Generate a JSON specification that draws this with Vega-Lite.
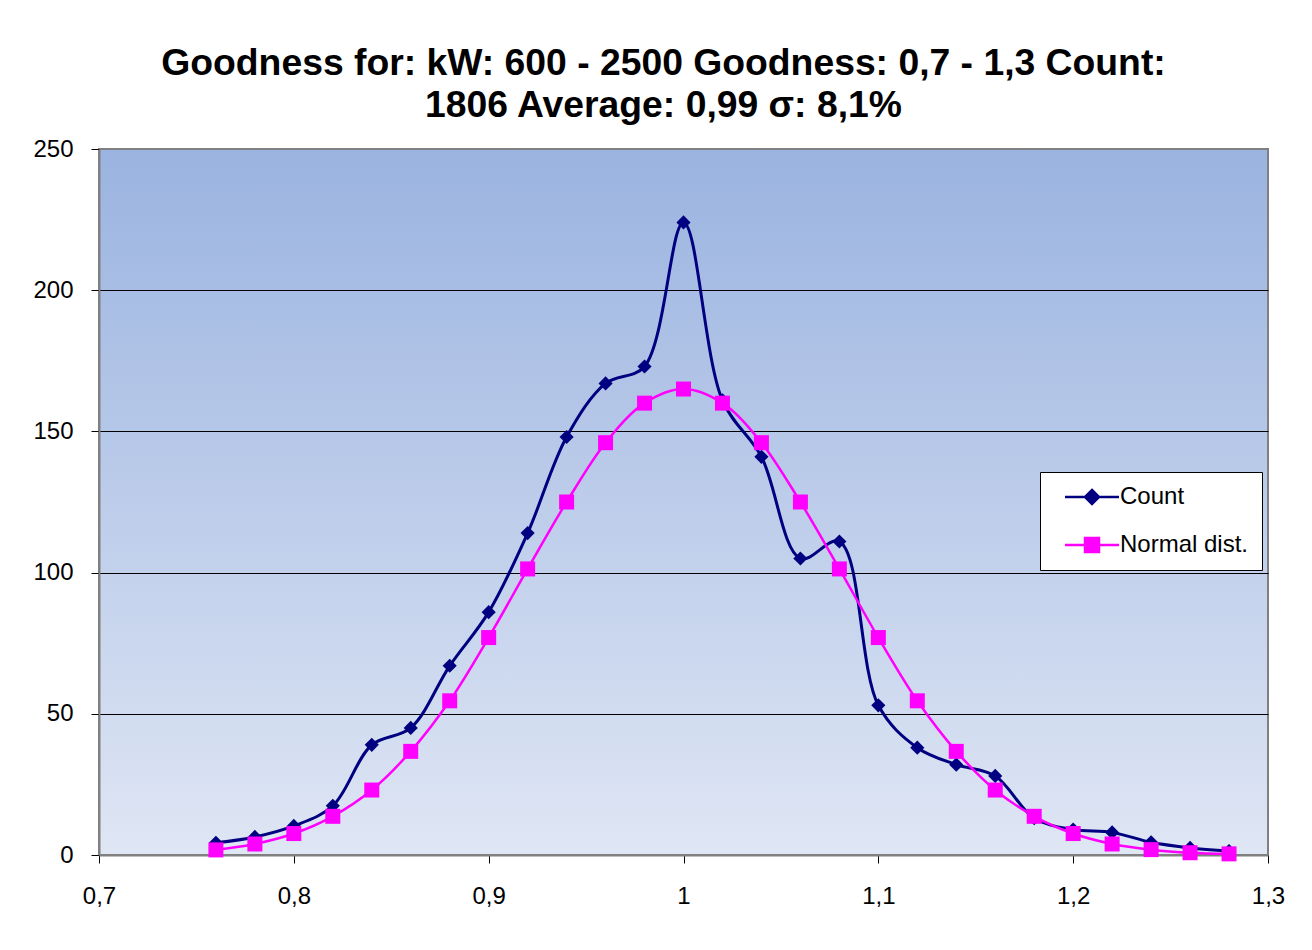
{
  "$schema": "https://vega.github.io/schema/vega-lite/v6.json",
  "width": 1169,
  "height": 706,
  "autosize": {"type": "none"},
  "padding": {"left": 99, "top": 149, "right": 44, "bottom": 95},
  "background": "white",
  "title": {
    "text": ["Goodness for: kW: 600 - 2500 Goodness: 0,7 - 1,3 Count:", "1806 Average: 0,99 σ: 8,1%"],
    "font": "Liberation Sans",
    "fontSize": 37.3,
    "fontWeight": "bold",
    "color": "black",
    "anchor": "middle",
    "baseline": "bottom",
    "lineHeight": 42,
    "offset": -25,
    "dx": -20
  },
  "config": {
    "view": {
      "fill": {"gradient": "linear", "x1": 0, "y1": 0, "x2": 0, "y2": 1, "stops": [{"offset": 0, "color": "#9AB3E0"}, {"offset": 1, "color": "#DFE6F4"}]},
      "stroke": "#808080",
      "strokeWidth": 2
    },
    "axis": {
      "labelFont": "Liberation Sans",
      "labelFontSize": 24,
      "labelColor": "black",
      "tickColor": "black",
      "tickSize": 8,
      "domainColor": "#808080",
      "domainWidth": 2,
      "labelFlush": false,
      "labelOverlap": false,
      "title": null
    },
    "legend": {
      "labelFont": "Liberation Sans",
      "labelFontSize": 24,
      "labelColor": "black"
    }
  },
  "data": {
    "values": [
      {"x": 0.76, "series": "Count", "value": 4.3},
      {"x": 0.78, "series": "Count", "value": 6.4},
      {"x": 0.80, "series": "Count", "value": 10.3},
      {"x": 0.82, "series": "Count", "value": 17.4},
      {"x": 0.84, "series": "Count", "value": 39},
      {"x": 0.86, "series": "Count", "value": 45},
      {"x": 0.88, "series": "Count", "value": 67},
      {"x": 0.90, "series": "Count", "value": 86},
      {"x": 0.92, "series": "Count", "value": 114},
      {"x": 0.94, "series": "Count", "value": 148},
      {"x": 0.96, "series": "Count", "value": 167},
      {"x": 0.98, "series": "Count", "value": 173},
      {"x": 1.00, "series": "Count", "value": 224},
      {"x": 1.02, "series": "Count", "value": 161},
      {"x": 1.04, "series": "Count", "value": 141},
      {"x": 1.06, "series": "Count", "value": 105},
      {"x": 1.08, "series": "Count", "value": 111},
      {"x": 1.10, "series": "Count", "value": 53},
      {"x": 1.12, "series": "Count", "value": 38},
      {"x": 1.14, "series": "Count", "value": 32},
      {"x": 1.16, "series": "Count", "value": 28},
      {"x": 1.18, "series": "Count", "value": 13},
      {"x": 1.20, "series": "Count", "value": 9},
      {"x": 1.22, "series": "Count", "value": 8},
      {"x": 1.24, "series": "Count", "value": 4.5},
      {"x": 1.26, "series": "Count", "value": 2.5},
      {"x": 1.28, "series": "Count", "value": 1.4},
      {"x": 0.76, "series": "Normal dist.", "value": 1.8},
      {"x": 0.78, "series": "Normal dist.", "value": 3.9},
      {"x": 0.80, "series": "Normal dist.", "value": 7.6},
      {"x": 0.82, "series": "Normal dist.", "value": 13.7},
      {"x": 0.84, "series": "Normal dist.", "value": 23},
      {"x": 0.86, "series": "Normal dist.", "value": 36.7},
      {"x": 0.88, "series": "Normal dist.", "value": 54.6},
      {"x": 0.90, "series": "Normal dist.", "value": 77},
      {"x": 0.92, "series": "Normal dist.", "value": 101.3},
      {"x": 0.94, "series": "Normal dist.", "value": 125},
      {"x": 0.96, "series": "Normal dist.", "value": 146},
      {"x": 0.98, "series": "Normal dist.", "value": 160},
      {"x": 1.00, "series": "Normal dist.", "value": 165},
      {"x": 1.02, "series": "Normal dist.", "value": 160},
      {"x": 1.04, "series": "Normal dist.", "value": 146},
      {"x": 1.06, "series": "Normal dist.", "value": 125},
      {"x": 1.08, "series": "Normal dist.", "value": 101.3},
      {"x": 1.10, "series": "Normal dist.", "value": 77},
      {"x": 1.12, "series": "Normal dist.", "value": 54.6},
      {"x": 1.14, "series": "Normal dist.", "value": 36.7},
      {"x": 1.16, "series": "Normal dist.", "value": 23},
      {"x": 1.18, "series": "Normal dist.", "value": 13.7},
      {"x": 1.20, "series": "Normal dist.", "value": 7.6},
      {"x": 1.22, "series": "Normal dist.", "value": 3.9},
      {"x": 1.24, "series": "Normal dist.", "value": 1.9},
      {"x": 1.26, "series": "Normal dist.", "value": 0.8},
      {"x": 1.28, "series": "Normal dist.", "value": 0.4}
    ]
  },
  "encoding": {
    "x": {
      "field": "x", "type": "quantitative",
      "scale": {"domain": [0.7, 1.3], "nice": false, "zero": false},
      "axis": {
        "values": [0.7, 0.8, 0.9, 1.0, 1.1, 1.2, 1.3],
        "labelExpr": "replace(format(datum.value, '.1~f'), '.', ',')",
        "labelPadding": 21,
        "labelFlush": false,
        "grid": false
      }
    },
    "y": {
      "field": "value", "type": "quantitative",
      "scale": {"domain": [0, 250], "nice": false},
      "axis": {
        "values": [0, 50, 100, 150, 200, 250],
        "labelPadding": 18,
        "grid": true,
        "gridColor": {"condition": {"test": "datum.value === 0 || datum.value === 250", "value": "transparent"}, "value": "black"},
        "gridWidth": 1,
        "gridOpacity": 1
      }
    },
    "color": {
      "field": "series", "type": "nominal",
      "scale": {"domain": ["Count", "Normal dist."], "range": ["#000080", "#FF00FF"]},
      "legend": {
        "orient": "none",
        "legendX": 941,
        "legendY": 323,
        "title": null,
        "padding": 13,
        "fillColor": "white",
        "strokeColor": "black",
        "symbolSize": 400,
        "labelOffset": 43,
        "rowPadding": 24,
        "cornerRadius": 0,
        "encode": {
          "symbols": {
            "update": {
              "shape": {"signal": "datum.value === 'Count' ? 'M0,0H5.4M2.7,-0.7L3.4,0L2.7,0.7L2.0,0Z' : 'M0,0H5.4M2.0,-0.7H3.4V0.7H2.0Z'"},
              "fill": {"signal": "datum.value === 'Count' ? '#000080' : '#FF00FF'"},
              "stroke": {"signal": "datum.value === 'Count' ? '#000080' : '#FF00FF'"},
              "strokeWidth": {"value": 2.5},
              "opacity": {"value": 1},
              "fillOpacity": {"value": 1}
            }
          }
        }
      }
    }
  },
  "layer": [
    {
      "transform": [{"filter": "datum.series === 'Count'"}],
      "mark": {"type": "line", "interpolate": "catmull-rom", "strokeWidth": 3}
    },
    {
      "transform": [{"filter": "datum.series === 'Count'"}],
      "mark": {"type": "point", "shape": "diamond", "filled": true, "size": 200, "opacity": 1}
    },
    {
      "transform": [{"filter": "datum.series === 'Normal dist.'"}],
      "mark": {"type": "line", "interpolate": "catmull-rom", "strokeWidth": 2.5}
    },
    {
      "transform": [{"filter": "datum.series === 'Normal dist.'"}],
      "mark": {"type": "point", "shape": "square", "filled": true, "size": 225, "opacity": 1}
    }
  ]
}
